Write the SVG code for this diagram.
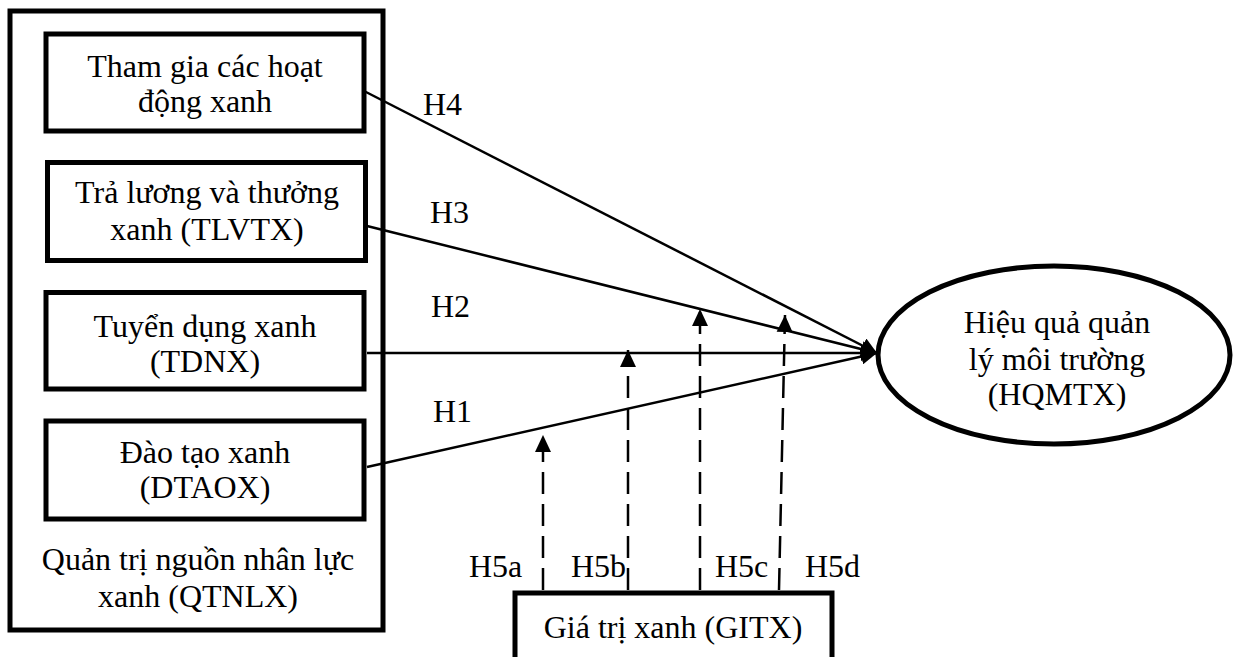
<svg xmlns="http://www.w3.org/2000/svg" width="1234" height="657" viewBox="0 0 1234 657">
<style>
  .box { fill: #fff; stroke: #000; stroke-width: 5; }
  text { font-family: 'Liberation Serif', 'Times New Roman', serif; font-size: 32px; fill: #000; }
  .t { text-anchor: middle; }
  .ln { stroke: #000; stroke-width: 2.5; fill: none; }
  .dash { stroke: #000; stroke-width: 2.5; fill: none; stroke-dasharray: 22 10; }
</style>
<defs>
  <marker id="ah" viewBox="0 0 10 10" refX="10" refY="5" markerWidth="16" markerHeight="16" markerUnits="userSpaceOnUse" orient="auto">
    <path d="M0,0 L10,5 L0,10 Z" fill="#000"/>
  </marker>
  <marker id="ahv" viewBox="0 0 10 10" refX="10" refY="5" markerWidth="17" markerHeight="17" markerUnits="userSpaceOnUse" orient="auto">
    <path d="M0,0.3 L10,5 L0,9.7 Z" fill="#000"/>
  </marker>
</defs>

<g id="qtnlx">
  <rect class="box" x="10" y="11" width="373" height="619"/>
  <text class="t" x="198" y="570">Quản trị nguồn nhân lực</text>
  <text class="t" x="198" y="607">xanh (QTNLX)</text>
</g>

<g id="thamgia">
  <rect class="box" x="46" y="34" width="318" height="97"/>
  <text class="t" x="205" y="77">Tham gia các hoạt</text>
  <text class="t" x="205" y="112">động xanh</text>
</g>

<g id="tlvtx">
  <rect class="box" x="47.5" y="162.5" width="318" height="98"/>
  <text class="t" x="207" y="203">Trả lương và thưởng</text>
  <text class="t" x="207" y="240">xanh (TLVTX)</text>
</g>

<g id="tdnx">
  <rect class="box" x="46" y="292.5" width="318" height="96.5"/>
  <text class="t" x="205" y="337">Tuyển dụng xanh</text>
  <text class="t" x="205" y="372">(TDNX)</text>
</g>

<g id="dtaox">
  <rect class="box" x="46" y="421" width="318" height="98"/>
  <text class="t" x="205" y="463">Đào tạo xanh</text>
  <text class="t" x="205" y="498">(DTAOX)</text>
</g>

<g id="hqmtx">
  <ellipse cx="1054" cy="355" rx="176" ry="89" fill="#fff" stroke="#000" stroke-width="5"/>
  <text class="t" x="1057" y="333">Hiệu quả quản</text>
  <text class="t" x="1057" y="370">lý môi trường</text>
  <text class="t" x="1057" y="405">(HQMTX)</text>
</g>

<g id="gitx">
  <rect class="box" x="515" y="593" width="317" height="90"/>
  <text class="t" x="673" y="638">Giá trị xanh (GITX)</text>
</g>

<g id="connectors">
  <line class="ln" x1="364" y1="91" x2="877" y2="353" marker-end="url(#ah)"/>
  <line class="ln" x1="367" y1="226" x2="877" y2="353" marker-end="url(#ah)"/>
  <line class="ln" x1="367" y1="353" x2="877" y2="353" marker-end="url(#ah)"/>
  <line class="ln" x1="367" y1="467" x2="877" y2="353" marker-end="url(#ah)"/>
  <line class="dash" x1="543" y1="590" x2="543" y2="435" marker-end="url(#ahv)"/>
  <line class="dash" x1="628" y1="590" x2="628" y2="350" marker-end="url(#ahv)"/>
  <line class="dash" x1="700" y1="590" x2="700" y2="309" marker-end="url(#ahv)"/>
  <line class="dash" x1="779" y1="590" x2="785" y2="315" marker-end="url(#ahv)"/>
</g>

<g id="labels">
  <text x="423" y="115">H4</text>
  <text x="430" y="223">H3</text>
  <text x="431" y="317">H2</text>
  <text x="433" y="422">H1</text>
  <text x="469" y="577">H5a</text>
  <text x="571" y="577">H5b</text>
  <text x="715" y="577">H5c</text>
  <text x="805" y="577">H5d</text>
</g>
</svg>
